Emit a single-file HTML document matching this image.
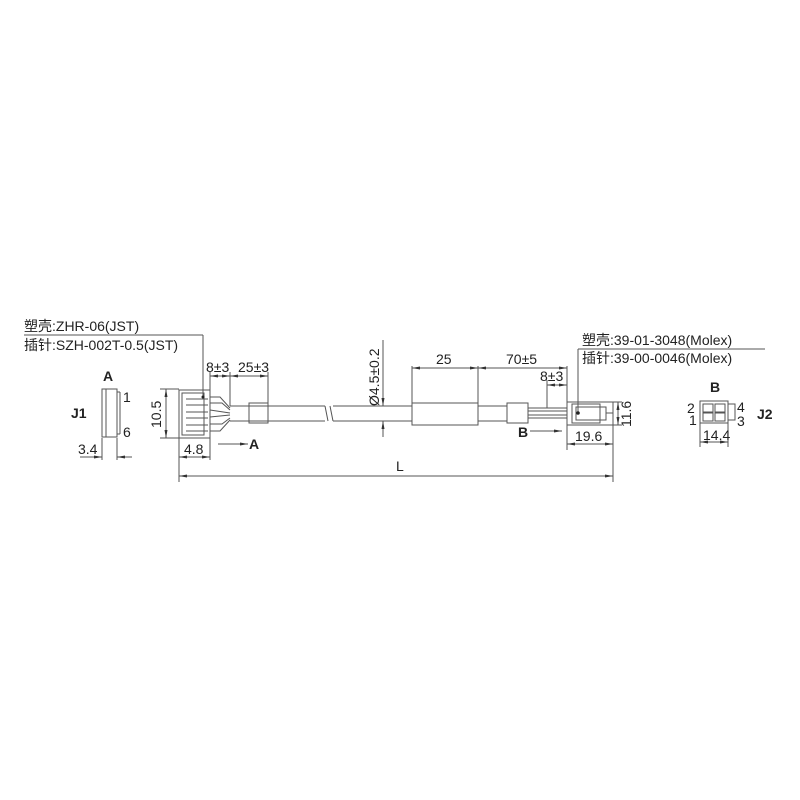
<!DOCTYPE html>
<html><head><meta charset="utf-8"><style>
html,body{margin:0;padding:0;background:#fff;}
svg{display:block;}
text{font-family:"Liberation Sans","Noto Sans CJK SC",sans-serif;fill:#222;}
</style></head><body>
<svg width="800" height="800" viewBox="0 0 800 800" xmlns="http://www.w3.org/2000/svg">
<defs>
<marker id="ar" markerWidth="8" markerHeight="6" refX="8" refY="3" orient="auto-start-reverse" markerUnits="userSpaceOnUse"><path d="M0,1.5 L8,3 L0,4.5 Z" fill="#333"/></marker>
</defs>
<g stroke="#555" stroke-width="1" fill="none">
<line x1="24" y1="335" x2="203" y2="335"/>
<line x1="203" y1="335" x2="203" y2="397"/>
<rect x="102" y="389" width="15" height="48"/>
<line x1="106" y1="389" x2="106" y2="437"/>
<line x1="117" y1="392" x2="120" y2="392"/><line x1="120" y1="392" x2="120" y2="434"/><line x1="117" y1="434" x2="120" y2="434"/>
<line x1="102" y1="438" x2="102" y2="460"/><line x1="117" y1="438" x2="117" y2="460"/>
<line x1="80" y1="457" x2="102" y2="457" marker-end="url(#ar)"/>
<line x1="132" y1="457" x2="117" y2="457" marker-end="url(#ar)"/>
<rect x="179" y="390" width="31" height="48"/>
<rect x="182" y="393" width="22" height="42"/>
<line x1="186" y1="399" x2="208" y2="399"/><line x1="186" y1="405" x2="208" y2="405"/>
<line x1="186" y1="412" x2="208" y2="412"/><line x1="186" y1="418" x2="208" y2="418"/>
<line x1="186" y1="425" x2="208" y2="425"/><line x1="186" y1="431" x2="208" y2="431"/>
<line x1="160" y1="389" x2="179" y2="389"/><line x1="160" y1="438" x2="179" y2="438"/>
<line x1="166" y1="389" x2="166" y2="438" marker-start="url(#ar)" marker-end="url(#ar)"/>
<line x1="179" y1="438" x2="179" y2="482"/><line x1="210" y1="438" x2="210" y2="460"/>
<line x1="179" y1="457" x2="210" y2="457" marker-start="url(#ar)" marker-end="url(#ar)"/>
<path d="M210,397 L220,397 L230,408 M210,403 L222,403 L230,410 M210,410 L230,413 M210,417 L230,415 M210,424 L222,424 L230,418 M210,431 L220,431 L230,420"/>
<line x1="230" y1="406" x2="325" y2="406"/><line x1="230" y1="421" x2="325" y2="421"/>
<path d="M325,406 L328,421 M330,406 L333,421"/>
<rect x="249" y="403" width="19" height="20"/>
<line x1="230" y1="372" x2="230" y2="406"/><line x1="268" y1="372" x2="268" y2="403"/>
<line x1="210" y1="376" x2="230" y2="376" marker-start="url(#ar)" marker-end="url(#ar)"/>
<line x1="230" y1="376" x2="268" y2="376" marker-start="url(#ar)" marker-end="url(#ar)"/>
<line x1="210" y1="372" x2="210" y2="390"/>
<line x1="218" y1="444" x2="248" y2="444" marker-end="url(#ar)"/>
<line x1="613" y1="425" x2="613" y2="482"/>
<line x1="179" y1="476" x2="613" y2="476" marker-start="url(#ar)" marker-end="url(#ar)"/>
<line x1="333" y1="406" x2="412" y2="406"/><line x1="333" y1="421" x2="412" y2="421"/>
<line x1="383" y1="340" x2="383" y2="406" marker-end="url(#ar)"/>
<line x1="383" y1="437" x2="383" y2="421" marker-end="url(#ar)"/>
<rect x="412" y="403" width="66" height="22"/>
<line x1="412" y1="366" x2="412" y2="403"/><line x1="478" y1="366" x2="478" y2="403"/>
<line x1="412" y1="368" x2="478" y2="368" marker-start="url(#ar)" marker-end="url(#ar)"/>
<line x1="478" y1="368" x2="567" y2="368" marker-start="url(#ar)" marker-end="url(#ar)"/>
<line x1="478" y1="406" x2="507" y2="406"/><line x1="478" y1="421" x2="507" y2="421"/>
<rect x="507" y="403" width="21" height="20"/>
<path d="M528,408 L567,408 M528,411 L567,411 M528,415 L567,415 M528,418 L567,418"/>
<line x1="547" y1="380" x2="547" y2="408"/><line x1="567" y1="366" x2="567" y2="402"/>
<line x1="547" y1="385" x2="567" y2="385" marker-start="url(#ar)" marker-end="url(#ar)"/>
<line x1="530" y1="431" x2="562" y2="431" marker-end="url(#ar)"/>
<rect x="567" y="402" width="46" height="23"/>
<rect x="572" y="404" width="28" height="19"/>
<rect x="576" y="407" width="30" height="13"/>
<line x1="606" y1="413" x2="613" y2="413"/>
<line x1="567" y1="425" x2="567" y2="450"/>
<line x1="567" y1="444" x2="613" y2="444" marker-start="url(#ar)" marker-end="url(#ar)"/>
<line x1="613" y1="402" x2="622" y2="402"/><line x1="613" y1="425" x2="622" y2="425"/>
<line x1="618" y1="402" x2="618" y2="425" marker-start="url(#ar)" marker-end="url(#ar)"/>
<line x1="578" y1="349" x2="765" y2="349"/>
<line x1="578" y1="349" x2="578" y2="413"/>
<rect x="700" y="401" width="28" height="22"/>
<rect x="703" y="404" width="10" height="8"/><rect x="715" y="404" width="10" height="8"/>
<rect x="703" y="413" width="10" height="8"/><rect x="715" y="413" width="10" height="8"/>
<rect x="728" y="404" width="7" height="16"/>
<line x1="700" y1="423" x2="700" y2="447"/><line x1="728" y1="423" x2="728" y2="447"/>
<line x1="700" y1="442" x2="728" y2="442" marker-start="url(#ar)" marker-end="url(#ar)"/>
</g>
<circle cx="578" cy="413" r="1.8" fill="#222"/>
<circle cx="203" cy="397" r="1.5" fill="#222"/>
<g font-size="14">
<text x="24" y="331">塑壳:ZHR-06(JST)</text>
<text x="24" y="350">插针:SZH-002T-0.5(JST)</text>
<text x="582" y="345">塑壳:39-01-3048(Molex)</text>
<text x="582" y="363">插针:39-00-0046(Molex)</text>
<text x="206" y="372">8±3</text>
<text x="238" y="372">25±3</text>
<text x="436" y="364">25</text>
<text x="506" y="364">70±5</text>
<text x="540" y="381">8±3</text>
<text x="184" y="454">4.8</text>
<text x="78" y="454">3.4</text>
<text x="575" y="441">19.6</text>
<text x="703" y="440">14.4</text>
<text x="396" y="471">L</text>
<text x="123" y="402">1</text>
<text x="123" y="437">6</text>
<text x="687" y="413">2</text>
<text x="689" y="425">1</text>
<text x="737" y="412">4</text>
<text x="737" y="426">3</text>
<text transform="translate(161,428) rotate(-90)">10.5</text>
<text transform="translate(631,427) rotate(-90)">11.6</text>
<text transform="translate(379,406) rotate(-90)">Ø4.5±0.2</text>
</g>
<g font-size="14" font-weight="bold">
<text x="103" y="381">A</text>
<text x="71" y="418">J1</text>
<text x="249" y="449">A</text>
<text x="518" y="437">B</text>
<text x="710" y="392">B</text>
<text x="757" y="419">J2</text>
</g>
</svg>
</body></html>
